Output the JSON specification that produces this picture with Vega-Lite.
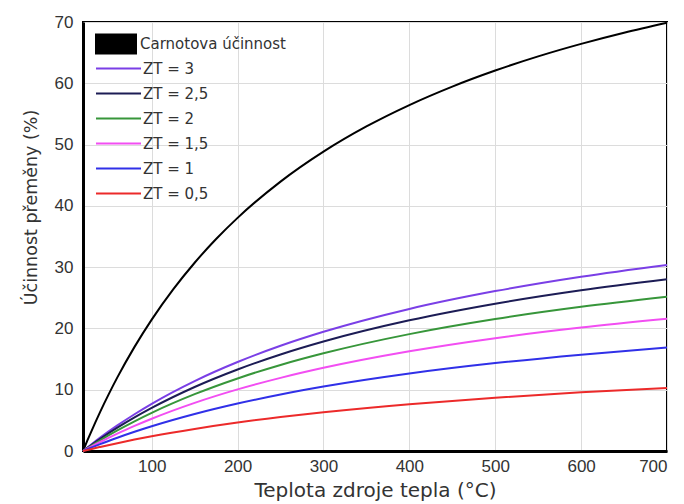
{
  "$schema": "https://vega.github.io/schema/vega-lite/v6.json",
  "width": 584,
  "height": 429,
  "autosize": "none",
  "padding": {"left": 83, "top": 22, "right": 17, "bottom": 53},
  "background": "white",
  "datasets": {
    "carnot": [
      {"T": 20, "eta": 0, "series": "Carnotova účinnost"},
      {"T": 25, "eta": 1.68, "series": "Carnotova účinnost"},
      {"T": 30, "eta": 3.30, "series": "Carnotova účinnost"},
      {"T": 40, "eta": 6.39, "series": "Carnotova účinnost"},
      {"T": 50, "eta": 9.28, "series": "Carnotova účinnost"},
      {"T": 60, "eta": 12.01, "series": "Carnotova účinnost"},
      {"T": 80, "eta": 16.99, "series": "Carnotova účinnost"},
      {"T": 100, "eta": 21.44, "series": "Carnotova účinnost"},
      {"T": 125, "eta": 26.37, "series": "Carnotova účinnost"},
      {"T": 150, "eta": 30.72, "series": "Carnotova účinnost"},
      {"T": 175, "eta": 34.59, "series": "Carnotova účinnost"},
      {"T": 200, "eta": 38.04, "series": "Carnotova účinnost"},
      {"T": 250, "eta": 43.96, "series": "Carnotova účinnost"},
      {"T": 300, "eta": 48.85, "series": "Carnotova účinnost"},
      {"T": 350, "eta": 52.96, "series": "Carnotova účinnost"},
      {"T": 400, "eta": 56.45, "series": "Carnotova účinnost"},
      {"T": 450, "eta": 59.46, "series": "Carnotova účinnost"},
      {"T": 500, "eta": 62.08, "series": "Carnotova účinnost"},
      {"T": 550, "eta": 64.39, "series": "Carnotova účinnost"},
      {"T": 600, "eta": 66.43, "series": "Carnotova účinnost"},
      {"T": 650, "eta": 68.25, "series": "Carnotova účinnost"},
      {"T": 700, "eta": 69.88, "series": "Carnotova účinnost"}
    ],
    "zt": [
      {"T": 20, "eta": 0, "series": "ZT = 3"},
      {"T": 30, "eta": 1.11, "series": "ZT = 3"},
      {"T": 40, "eta": 2.18, "series": "ZT = 3"},
      {"T": 60, "eta": 4.17, "series": "ZT = 3"},
      {"T": 80, "eta": 6.00, "series": "ZT = 3"},
      {"T": 100, "eta": 7.70, "series": "ZT = 3"},
      {"T": 150, "eta": 11.41, "series": "ZT = 3"},
      {"T": 200, "eta": 14.52, "series": "ZT = 3"},
      {"T": 250, "eta": 17.17, "series": "ZT = 3"},
      {"T": 300, "eta": 19.45, "series": "ZT = 3"},
      {"T": 400, "eta": 23.18, "series": "ZT = 3"},
      {"T": 500, "eta": 26.09, "series": "ZT = 3"},
      {"T": 600, "eta": 28.44, "series": "ZT = 3"},
      {"T": 700, "eta": 30.36, "series": "ZT = 3"},
      {"T": 20, "eta": 0, "series": "ZT = 2,5"},
      {"T": 30, "eta": 1.01, "series": "ZT = 2,5"},
      {"T": 40, "eta": 1.98, "series": "ZT = 2,5"},
      {"T": 60, "eta": 3.80, "series": "ZT = 2,5"},
      {"T": 80, "eta": 5.48, "series": "ZT = 2,5"},
      {"T": 100, "eta": 7.03, "series": "ZT = 2,5"},
      {"T": 150, "eta": 10.44, "series": "ZT = 2,5"},
      {"T": 200, "eta": 13.30, "series": "ZT = 2,5"},
      {"T": 250, "eta": 15.75, "series": "ZT = 2,5"},
      {"T": 300, "eta": 17.86, "series": "ZT = 2,5"},
      {"T": 400, "eta": 21.32, "series": "ZT = 2,5"},
      {"T": 500, "eta": 24.03, "series": "ZT = 2,5"},
      {"T": 600, "eta": 26.22, "series": "ZT = 2,5"},
      {"T": 700, "eta": 28.01, "series": "ZT = 2,5"},
      {"T": 20, "eta": 0, "series": "ZT = 2"},
      {"T": 30, "eta": 0.89, "series": "ZT = 2"},
      {"T": 40, "eta": 1.75, "series": "ZT = 2"},
      {"T": 60, "eta": 3.37, "series": "ZT = 2"},
      {"T": 80, "eta": 4.85, "series": "ZT = 2"},
      {"T": 100, "eta": 6.23, "series": "ZT = 2"},
      {"T": 150, "eta": 9.27, "series": "ZT = 2"},
      {"T": 200, "eta": 11.84, "series": "ZT = 2"},
      {"T": 250, "eta": 14.04, "series": "ZT = 2"},
      {"T": 300, "eta": 15.94, "series": "ZT = 2"},
      {"T": 400, "eta": 19.07, "series": "ZT = 2"},
      {"T": 500, "eta": 21.53, "series": "ZT = 2"},
      {"T": 600, "eta": 23.52, "series": "ZT = 2"},
      {"T": 700, "eta": 25.16, "series": "ZT = 2"},
      {"T": 20, "eta": 0, "series": "ZT = 1,5"},
      {"T": 30, "eta": 0.75, "series": "ZT = 1,5"},
      {"T": 40, "eta": 1.47, "series": "ZT = 1,5"},
      {"T": 60, "eta": 2.84, "series": "ZT = 1,5"},
      {"T": 80, "eta": 4.09, "series": "ZT = 1,5"},
      {"T": 100, "eta": 5.26, "series": "ZT = 1,5"},
      {"T": 150, "eta": 7.85, "series": "ZT = 1,5"},
      {"T": 200, "eta": 10.05, "series": "ZT = 1,5"},
      {"T": 250, "eta": 11.93, "series": "ZT = 1,5"},
      {"T": 300, "eta": 13.57, "series": "ZT = 1,5"},
      {"T": 400, "eta": 16.27, "series": "ZT = 1,5"},
      {"T": 500, "eta": 18.41, "series": "ZT = 1,5"},
      {"T": 600, "eta": 20.14, "series": "ZT = 1,5"},
      {"T": 700, "eta": 21.57, "series": "ZT = 1,5"},
      {"T": 20, "eta": 0, "series": "ZT = 1"},
      {"T": 30, "eta": 0.57, "series": "ZT = 1"},
      {"T": 40, "eta": 1.13, "series": "ZT = 1"},
      {"T": 60, "eta": 2.17, "series": "ZT = 1"},
      {"T": 80, "eta": 3.14, "series": "ZT = 1"},
      {"T": 100, "eta": 4.04, "series": "ZT = 1"},
      {"T": 150, "eta": 6.04, "series": "ZT = 1"},
      {"T": 200, "eta": 7.75, "series": "ZT = 1"},
      {"T": 250, "eta": 9.22, "series": "ZT = 1"},
      {"T": 300, "eta": 10.51, "series": "ZT = 1"},
      {"T": 400, "eta": 12.64, "series": "ZT = 1"},
      {"T": 500, "eta": 14.34, "series": "ZT = 1"},
      {"T": 600, "eta": 15.72, "series": "ZT = 1"},
      {"T": 700, "eta": 16.87, "series": "ZT = 1"},
      {"T": 20, "eta": 0, "series": "ZT = 0,5"},
      {"T": 30, "eta": 0.34, "series": "ZT = 0,5"},
      {"T": 40, "eta": 0.66, "series": "ZT = 0,5"},
      {"T": 60, "eta": 1.28, "series": "ZT = 0,5"},
      {"T": 80, "eta": 1.86, "series": "ZT = 0,5"},
      {"T": 100, "eta": 2.40, "series": "ZT = 0,5"},
      {"T": 150, "eta": 3.60, "series": "ZT = 0,5"},
      {"T": 200, "eta": 4.64, "series": "ZT = 0,5"},
      {"T": 250, "eta": 5.54, "series": "ZT = 0,5"},
      {"T": 300, "eta": 6.32, "series": "ZT = 0,5"},
      {"T": 400, "eta": 7.64, "series": "ZT = 0,5"},
      {"T": 500, "eta": 8.70, "series": "ZT = 0,5"},
      {"T": 600, "eta": 9.57, "series": "ZT = 0,5"},
      {"T": 700, "eta": 10.29, "series": "ZT = 0,5"}
    ]
  },
  "config": {
    "view": {"stroke": "black", "strokeWidth": 2},
    "axis": {
      "grid": true,
      "gridColor": "#dcdcdc",
      "gridWidth": 1,
      "ticks": false,
      "domain": true,
      "domainColor": "black",
      "domainWidth": 3,
      "labelFont": "Liberation Sans",
      "labelFontSize": 17,
      "labelColor": "#333333",
      "titleFont": "DejaVu Sans",
      "titleFontWeight": "normal",
      "titleColor": "#333333"
    },
    "legend": {
      "labelFont": "DejaVu Sans",
      "labelFontSize": 15,
      "labelColor": "#333333",
      "title": null
    }
  },
  "resolve": {"scale": {"color": "independent"}, "legend": {"color": "independent"}},
  "layer": [
    {
      "data": {"name": "carnot"},
      "mark": {"type": "line", "strokeWidth": 2, "interpolate": "monotone"},
      "encoding": {
        "x": {
          "field": "T", "type": "quantitative",
          "scale": {"domain": [20, 700], "nice": false, "zero": false},
          "axis": {"values": [100, 200, 300, 400, 500, 600, 700], "title": "Teplota zdroje tepla (°C)", "titleFontSize": 20, "labelPadding": 7, "titlePadding": 6}
        },
        "y": {
          "field": "eta", "type": "quantitative",
          "scale": {"domain": [0, 70], "nice": false},
          "axis": {"values": [0, 10, 20, 30, 40, 50, 60, 70], "title": "Účinnost přeměny (%)", "titleFontSize": 17.5, "titleY": 185, "labelPadding": 10, "titlePadding": 14}
        },
        "color": {
          "field": "series", "type": "nominal",
          "scale": {"domain": ["Carnotova účinnost"], "range": ["black"]},
          "legend": {
            "orient": "none", "legendX": 12, "legendY": 1,
            "symbolType": "M-1,-0.5H1V0.5H-1Z",
            "symbolSize": 1764,
            "symbolFillColor": "black",
            "symbolStrokeWidth": 0,
            "labelOffset": 3
          }
        }
      }
    },
    {
      "data": {"name": "zt"},
      "mark": {"type": "line", "strokeWidth": 2, "interpolate": "monotone"},
      "encoding": {
        "x": {"field": "T", "type": "quantitative"},
        "y": {"field": "eta", "type": "quantitative"},
        "color": {
          "field": "series", "type": "nominal",
          "scale": {
            "domain": ["ZT = 3", "ZT = 2,5", "ZT = 2", "ZT = 1,5", "ZT = 1", "ZT = 0,5"],
            "range": ["#7a3fe6", "#1c1c55", "#37963a", "#f24ef2", "#3030e8", "#ec2a2a"]
          },
          "legend": {
            "orient": "none", "legendX": 12, "legendY": 38,
            "symbolType": "M-1,0H5",
            "symbolSize": 225,
            "symbolStrokeWidth": 2,
            "labelOffset": 31,
            "rowPadding": 8
          }
        }
      }
    }
  ]
}
